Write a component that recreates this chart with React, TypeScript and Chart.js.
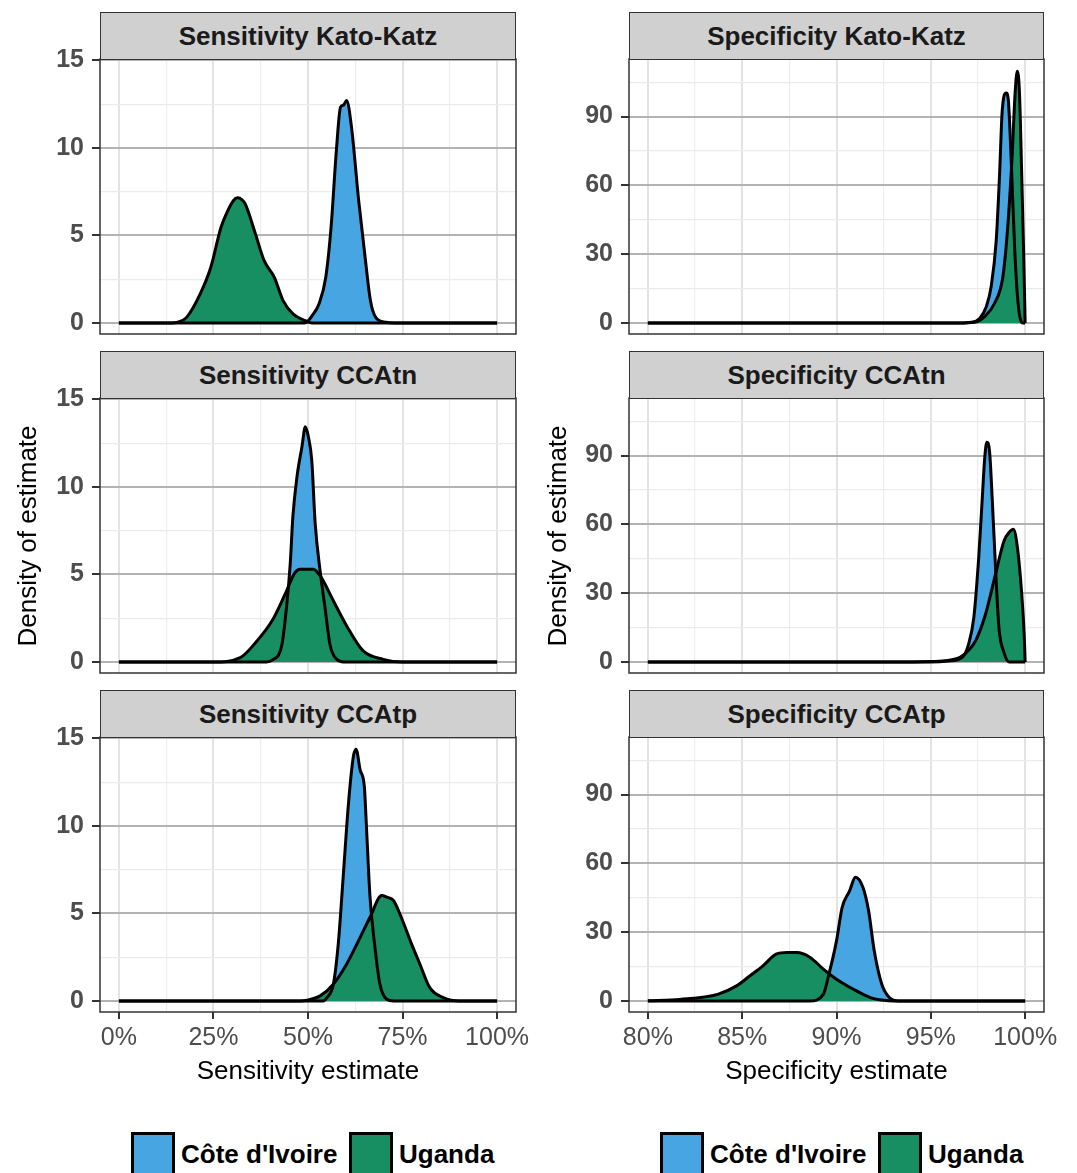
import React, { useEffect, useRef } from 'react';
import { Chart, registerables } from 'chart.js';

Chart.register(...registerables);

const FONT = "'Liberation Sans', Arial, Helvetica, sans-serif";
const BLUE = '#47a5e2';
const GREEN = '#178f62';
const COUNTRIES = ["Côte d'Ivoire", 'Uganda'];

// ---- Sensitivity Kato-Katz ----
const SENS_KK_CIV_X = [0, 0.49, 0.497, 0.511, 0.529, 0.547, 0.561, 0.575, 0.586, 0.594, 0.602, 0.615, 0.634, 0.652, 0.665, 0.679, 0.706, 0.73, 1];
const SENS_KK_CIV_Y = [0, 0, 0.05, 0.42, 1.09, 2.61, 5.47, 9.85, 12.33, 12.45, 12.71, 11.19, 6.99, 3.56, 1.28, 0.32, 0.04, 0, 0];
const SENS_KK_UGA_X = [0, 0.14, 0.156, 0.179, 0.215, 0.243, 0.27, 0.288, 0.303, 0.314, 0.325, 0.334, 0.361, 0.384, 0.411, 0.434, 0.461, 0.493, 0.51, 1];
const SENS_KK_UGA_Y = [0, 0, 0.05, 0.32, 1.66, 3.18, 5.47, 6.42, 7.0, 7.15, 7.05, 6.8, 5.09, 3.56, 2.61, 1.28, 0.51, 0.13, 0, 0];

// ---- Sensitivity CCAtn ----
const SENS_TN_CIV_X = [0, 0.39, 0.405, 0.431, 0.444, 0.453, 0.46, 0.471, 0.484, 0.493, 0.501, 0.51, 0.519, 0.532, 0.545, 0.558, 0.576, 0.594, 1];
const SENS_TN_CIV_Y = [0, 0, 0.1, 1.0, 3.3, 5.6, 8.3, 10.6, 12.3, 13.44, 12.87, 11.5, 7.9, 5.2, 3.1, 1.0, 0.15, 0, 0];
const SENS_TN_UGA_X = [0, 0.25, 0.321, 0.365, 0.405, 0.44, 0.466, 0.479, 0.514, 0.532, 0.567, 0.602, 0.646, 0.699, 0.75, 1];
const SENS_TN_UGA_Y = [0, 0, 0.25, 1.2, 2.35, 3.9, 5.12, 5.3, 5.3, 4.93, 3.5, 2.07, 0.63, 0.15, 0, 0];

// ---- Sensitivity CCAtp ----
const SENS_TP_CIV_X = [0, 0.54, 0.55, 0.567, 0.58, 0.593, 0.607, 0.62, 0.627, 0.638, 0.649, 0.655, 0.664, 0.677, 0.69, 0.708, 0.726, 1];
const SENS_TP_CIV_Y = [0, 0, 0.19, 0.96, 3.25, 7.07, 11.28, 13.96, 14.38, 13.19, 12.24, 9.75, 5.93, 3.06, 0.96, 0.1, 0, 0];
const SENS_TP_UGA_X = [0, 0.48, 0.497, 0.532, 0.567, 0.602, 0.638, 0.664, 0.695, 0.708, 0.726, 0.743, 0.774, 0.796, 0.822, 0.858, 0.901, 1];
const SENS_TP_UGA_Y = [0, 0, 0.04, 0.29, 0.96, 2.1, 3.63, 4.78, 6.02, 5.93, 5.74, 4.97, 3.25, 2.1, 0.76, 0.19, 0, 0];

// ---- Specificity Kato-Katz ----
const SPEC_KK_CIV_X = [0.8, 0.965, 0.9715, 0.9759, 0.9794, 0.982, 0.9847, 0.9864, 0.9879, 0.99, 0.9912, 0.9926, 0.9944, 0.9961, 0.9979, 0.9988, 1];
const SPEC_KK_CIV_Y = [0, 0, 0.3, 2.0, 7.1, 15.9, 36.3, 63.9, 93.1, 100.3, 96.0, 71.2, 33.3, 10.0, 0.6, 0, 0];
const SPEC_KK_UGA_X = [0.8, 0.965, 0.9732, 0.9785, 0.9838, 0.9882, 0.9908, 0.993, 0.9947, 0.9958, 0.997, 0.9982, 0.9993, 1];
const SPEC_KK_UGA_Y = [0, 0, 0.3, 2.8, 8.6, 20.2, 42.1, 71.2, 100.3, 109.8, 100.3, 63.9, 27.5, 0];

// ---- Specificity CCAtn ----
const SPEC_TN_CIV_X = [0.8, 0.95, 0.9594, 0.9665, 0.97, 0.9728, 0.9754, 0.9772, 0.9786, 0.9797, 0.9811, 0.9826, 0.9843, 0.9861, 0.9888, 0.9915, 1];
const SPEC_TN_CIV_Y = [0, 0, 0.4, 1.9, 7.7, 19.4, 45.6, 70.3, 89.2, 95.8, 92.1, 70.3, 41.2, 15.0, 4.1, 0, 0];
const SPEC_TN_UGA_X = [0.8, 0.94, 0.95, 0.959, 0.9666, 0.9737, 0.979, 0.9843, 0.9888, 0.9915, 0.9938, 0.9959, 0.9982, 0.9995, 1];
const SPEC_TN_UGA_Y = [0, 0, 0.2, 0.7, 2.6, 9.2, 20.8, 38.3, 52.8, 56.5, 57.9, 49.9, 29.5, 12, 0];

// ---- Specificity CCAtp ----
const SPEC_TP_CIV_X = [0.8, 0.88, 0.886, 0.893, 0.896, 0.9, 0.903, 0.907, 0.91, 0.914, 0.917, 0.92, 0.924, 0.928, 0.933, 1];
const SPEC_TP_CIV_Y = [0, 0, 0, 2.9, 11.7, 26.2, 40.8, 48.1, 54.0, 49.6, 39.4, 21.9, 7.3, 1.5, 0, 0];
const SPEC_TP_UGA_X = [0.8, 0.817, 0.837, 0.847, 0.854, 0.861, 0.868, 0.874, 0.879, 0.886, 0.893, 0.9, 0.909, 0.918, 0.925, 0.93, 1];
const SPEC_TP_UGA_Y = [0.1, 0.7, 2.9, 6.6, 10.9, 15.3, 20.4, 21.1, 21.1, 19.0, 13.9, 9.5, 5.1, 1.5, 0.3, 0, 0];

// ---- Ticks ----
const SENS_X_TICKS = [0, 0.125, 0.25, 0.375, 0.5, 0.625, 0.75, 0.875, 1];
const SENS_X_MAJOR = [0, 0.25, 0.5, 0.75, 1];
const SENS_X_LABELS = ['0%', '25%', '50%', '75%', '100%'];
const SPEC_X_TICKS = [0.8, 0.825, 0.85, 0.875, 0.9, 0.925, 0.95, 0.975, 1];
const SPEC_X_MAJOR = [0.8, 0.85, 0.9, 0.95, 1];
const SPEC_X_LABELS = ['80%', '85%', '90%', '95%', '100%'];
const SENS_Y_TICKS = [0, 2.5, 5, 7.5, 10, 12.5, 15];
const SENS_Y_MAJOR = [0, 5, 10, 15];
const SENS_Y_LABELS = ['0', '5', '10', '15'];
const SPEC_Y_TICKS = [0, 15, 30, 45, 60, 75, 90, 105];
const SPEC_Y_MAJOR = [0, 30, 60, 90];
const SPEC_Y_LABELS = ['0', '30', '60', '90'];

const TITLES = [
  ['Sensitivity Kato-Katz', 'Specificity Kato-Katz'],
  ['Sensitivity CCAtn', 'Specificity CCAtn'],
  ['Sensitivity CCAtp', 'Specificity CCAtp'],
];
const AXIS_TITLES = ['Sensitivity estimate', 'Specificity estimate'];
const Y_TITLE = 'Density of estimate';

const PANEL_DATA = [
  [
    [SENS_KK_CIV_X, SENS_KK_CIV_Y, SENS_KK_UGA_X, SENS_KK_UGA_Y],
    [SPEC_KK_CIV_X, SPEC_KK_CIV_Y, SPEC_KK_UGA_X, SPEC_KK_UGA_Y],
  ],
  [
    [SENS_TN_CIV_X, SENS_TN_CIV_Y, SENS_TN_UGA_X, SENS_TN_UGA_Y],
    [SPEC_TN_CIV_X, SPEC_TN_CIV_Y, SPEC_TN_UGA_X, SPEC_TN_UGA_Y],
  ],
  [
    [SENS_TP_CIV_X, SENS_TP_CIV_Y, SENS_TP_UGA_X, SENS_TP_UGA_Y],
    [SPEC_TP_CIV_X, SPEC_TP_CIV_Y, SPEC_TP_UGA_X, SPEC_TP_UGA_Y],
  ],
];

const COL_CFG = [
  {
    xMin: -0.05, xMax: 1.05, yMin: -0.63, yMax: 15.08,
    xTicks: SENS_X_TICKS, xMajor: SENS_X_MAJOR, xLabels: SENS_X_LABELS,
    yTicks: SENS_Y_TICKS, yMajor: SENS_Y_MAJOR, yLabels: SENS_Y_LABELS,
  },
  {
    xMin: 0.79, xMax: 1.01, yMin: -4.8, yMax: 115.1,
    xTicks: SPEC_X_TICKS, xMajor: SPEC_X_MAJOR, xLabels: SPEC_X_LABELS,
    yTicks: SPEC_Y_TICKS, yMajor: SPEC_Y_MAJOR, yLabels: SPEC_Y_LABELS,
  },
];

// layout geometry (page pixels)
const COL_LEFT = [0, 540];
const COL_WIDTH = [540, 537];
const PANEL_LEFT = [100, 629];
const PANEL_RIGHT = [516, 1044];
const STRIP_TOP = [12, 351, 690];
const PLOT_TOP = [59, 398, 737];
const PLOT_H = 275;
const PAD = 10;
const XAXIS_H = 50;

const near = (arr: number[], v: number) => arr.findIndex((m) => Math.abs(m - v) < 1e-6);

const panelBorder = {
  id: 'panelBorder',
  afterDraw(chart: any) {
    const { ctx, chartArea: a } = chart;
    ctx.save();
    ctx.strokeStyle = '#333333';
    ctx.lineWidth = 1.5;
    ctx.strokeRect(a.left, a.top, a.right - a.left, a.bottom - a.top);
    ctx.restore();
  },
};

function Panel({ row, col }: { row: number; col: number }) {
  const ref = useRef<HTMLCanvasElement>(null);
  const showX = row === 2;
  const width = COL_WIDTH[col];
  const height = PAD + PLOT_H + (showX ? XAXIS_H : PAD);
  const left = COL_LEFT[col];
  const top = PLOT_TOP[row] - PAD;

  useEffect(() => {
    const cfg = COL_CFG[col];
    const [cx, cy, ux, uy] = PANEL_DATA[row][col];
    const pts = (xs: number[], ys: number[]) => xs.map((x, i) => ({ x, y: ys[i] }));
    const civ = pts(cx, cy);
    const uga = pts(ux, uy);
    const fillDs = (data: any, color: string, order: number, label: string) => ({
      label,
      data,
      backgroundColor: color,
      borderColor: 'rgba(0,0,0,0)',
      borderWidth: 0,
      fill: 'origin',
      pointRadius: 0,
      cubicInterpolationMode: 'monotone',
      order,
    });
    const lineDs = (data: any, label: string) => ({
      label,
      data,
      borderColor: '#000000',
      borderWidth: 3,
      borderJoinStyle: 'round',
      fill: false,
      pointRadius: 0,
      cubicInterpolationMode: 'monotone',
      order: 0,
    });
    const yAxisW = PANEL_LEFT[col] - left;
    const rightPad = left + width - PANEL_RIGHT[col];

    const chart = new Chart(ref.current as HTMLCanvasElement, {
      type: 'line',
      data: {
        datasets: [
          lineDs(uga, COUNTRIES[1]),
          lineDs(civ, COUNTRIES[0]),
          fillDs(uga, GREEN, 1, COUNTRIES[1]),
          fillDs(civ, BLUE, 2, COUNTRIES[0]),
        ] as any,
      },
      options: {
        animation: false,
        responsive: false,
        maintainAspectRatio: false,
        devicePixelRatio: 1,
        events: [],
        layout: { autoPadding: false, padding: { left: 0, top: PAD, right: rightPad, bottom: showX ? 0 : PAD } } as any,
        plugins: { legend: { display: false }, tooltip: { enabled: false } },
        scales: {
          x: {
            type: 'linear',
            min: cfg.xMin,
            max: cfg.xMax,
            afterBuildTicks: (s: any) => {
              s.ticks = cfg.xTicks.map((v) => ({ value: v }));
            },
            afterFit: (s: any) => {
              s.height = showX ? XAXIS_H : 0;
              s.paddingLeft = 0;
              s.paddingRight = 0;
              s.paddingTop = 0;
              s.paddingBottom = 0;
            },
            border: { display: false },
            grid: {
              drawTicks: showX,
              tickLength: 7,
              color: (c: any) => (near(cfg.xMajor, c.tick.value) >= 0 ? '#e3e3e3' : '#ededed'),
              lineWidth: (c: any) => (near(cfg.xMajor, c.tick.value) >= 0 ? 2 : 1.2),
              tickColor: (c: any) => (near(cfg.xMajor, c.tick.value) >= 0 ? '#333333' : 'rgba(0,0,0,0)'),
              tickWidth: 2,
            },
            ticks: {
              display: showX,
              autoSkip: false,
              maxRotation: 0,
              padding: 4,
              color: '#4d4d4d',
              font: { family: FONT, size: 25 },
              callback: (v: any) => {
                const i = near(cfg.xMajor, Number(v));
                return i >= 0 ? cfg.xLabels[i] : '';
              },
            },
          },
          y: {
            type: 'linear',
            min: cfg.yMin,
            max: cfg.yMax,
            afterBuildTicks: (s: any) => {
              s.ticks = cfg.yTicks.map((v) => ({ value: v }));
            },
            afterFit: (s: any) => {
              s.width = yAxisW;
              s.paddingLeft = 0;
              s.paddingRight = 0;
              s.paddingTop = 0;
              s.paddingBottom = 0;
            },
            border: { display: false },
            grid: {
              drawTicks: true,
              tickLength: 8,
              color: (c: any) => (near(cfg.yMajor, c.tick.value) >= 0 ? '#b3b3b3' : '#ebebeb'),
              lineWidth: (c: any) => (near(cfg.yMajor, c.tick.value) >= 0 ? 2 : 1.2),
              tickColor: (c: any) => (near(cfg.yMajor, c.tick.value) >= 0 ? '#333333' : 'rgba(0,0,0,0)'),
              tickWidth: 2,
            },
            ticks: {
              autoSkip: false,
              padding: 8,
              color: '#4d4d4d',
              font: { family: FONT, size: 25, weight: 'bold' },
              callback: (v: any) => {
                const i = near(cfg.yMajor, Number(v));
                return i >= 0 ? cfg.yLabels[i] : '';
              },
            },
          },
        },
      } as any,
      plugins: [panelBorder],
    });
    return () => chart.destroy();
  }, [row, col]);

  return (
    <canvas
      ref={ref}
      width={width}
      height={height}
      style={{ position: 'absolute', left, top, width, height }}
    />
  );
}

function Strip({ row, col }: { row: number; col: number }) {
  return (
    <div
      style={{
        position: 'absolute',
        left: PANEL_LEFT[col],
        top: STRIP_TOP[row],
        width: PANEL_RIGHT[col] - PANEL_LEFT[col],
        height: PLOT_TOP[row] - STRIP_TOP[row] + 1,
        boxSizing: 'border-box',
        background: '#d0d0d0',
        border: '1.5px solid #333333',
        display: 'flex',
        alignItems: 'center',
        justifyContent: 'center',
        font: `bold 26px ${FONT}`,
        lineHeight: '26px',
        color: '#1a1a1a',
      }}
    >
      {TITLES[row][col]}
    </div>
  );
}

function Legend({ col }: { col: number }) {
  const base = col === 0 ? 131 : 660;
  const items = [
    { box: 0, text: 50, color: BLUE, label: COUNTRIES[0] },
    { box: 218, text: 268, color: GREEN, label: COUNTRIES[1] },
  ];
  return (
    <>
      {items.map((it, i) => (
        <React.Fragment key={i}>
          <div
            style={{
              position: 'absolute',
              left: base + it.box,
              top: 1132,
              width: 44,
              height: 52,
              boxSizing: 'border-box',
              background: it.color,
              border: '3px solid #000',
            }}
          />
          <div
            style={{
              position: 'absolute',
              left: base + it.text,
              top: 1141,
              font: `bold 26px ${FONT}`,
              lineHeight: '26px',
              color: '#000',
              whiteSpace: 'nowrap',
            }}
          >
            {it.label}
          </div>
        </React.Fragment>
      ))}
    </>
  );
}

export default function App() {
  const rows = [0, 1, 2];
  const cols = [0, 1];
  return (
    <div
      style={{
        position: 'absolute',
        left: 0,
        top: 0,
        width: 1077,
        height: 1173,
        overflow: 'hidden',
        background: '#ffffff',
        fontFamily: FONT,
      }}
    >
      {rows.map((r) => cols.map((c) => <Panel key={`p${r}${c}`} row={r} col={c} />))}
      {rows.map((r) => cols.map((c) => <Strip key={`s${r}${c}`} row={r} col={c} />))}
      {cols.map((c) => (
        <div
          key={`yt${c}`}
          style={{
            position: 'absolute',
            left: (c === 0 ? 27 : 557) - 150,
            top: 536 - 15,
            width: 300,
            height: 30,
            lineHeight: '30px',
            textAlign: 'center',
            transform: 'rotate(-90deg)',
            font: `26px ${FONT}`,
            color: '#000',
            whiteSpace: 'nowrap',
          }}
        >
          {Y_TITLE}
        </div>
      ))}
      {cols.map((c) => (
        <div
          key={`xt${c}`}
          style={{
            position: 'absolute',
            left: (PANEL_LEFT[c] + PANEL_RIGHT[c]) / 2 - 200,
            top: 1057,
            width: 400,
            textAlign: 'center',
            font: `26px ${FONT}`,
            lineHeight: '26px',
            color: '#000',
            whiteSpace: 'nowrap',
          }}
        >
          {AXIS_TITLES[c]}
        </div>
      ))}
      <Legend col={0} />
      <Legend col={1} />
    </div>
  );
}
